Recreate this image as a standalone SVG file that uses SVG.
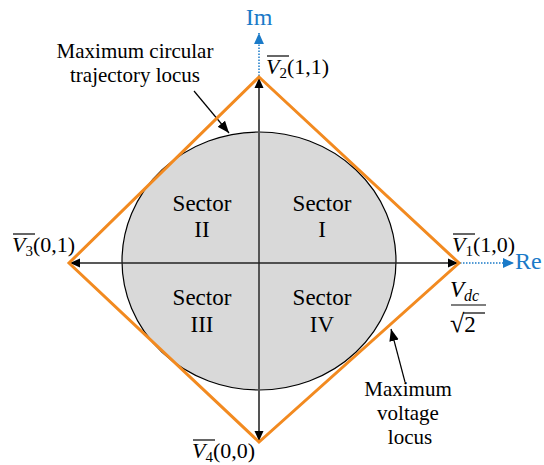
<svg xmlns="http://www.w3.org/2000/svg" width="544" height="465" viewBox="0 0 544 465">
<style>
text{font-family:"Liberation Serif","Times New Roman",serif;fill:#000}
.lbl{font-size:21px}
.sec{font-size:23px;text-anchor:middle}
.v{font-size:22px}
.blue{fill:#1a7ac8;font-size:24px}
.ov{stroke:#000;stroke-width:1.2}
</style>
<defs>
<marker id="ah" viewBox="0 0 10 10" refX="10" refY="5" markerWidth="10" markerHeight="10" markerUnits="userSpaceOnUse" orient="auto-start-reverse"><path d="M0,0.5 L10,5 L0,9.5 Z" fill="#000"/></marker>
<marker id="ahb" viewBox="0 0 10 10" refX="10" refY="5" markerWidth="11" markerHeight="11" markerUnits="userSpaceOnUse" orient="auto"><path d="M0,0.5 L10,5 L0,9.5 Z" fill="#1a7ac8"/></marker>
<marker id="ahs" viewBox="0 0 10 10" refX="10" refY="5" markerWidth="12" markerHeight="12" markerUnits="userSpaceOnUse" orient="auto"><path d="M0,1 L10,5 L0,9 Z" fill="#000"/></marker>
</defs>
<g id="circle-locus"><ellipse cx="259" cy="261" rx="137" ry="129" fill="#d9d9d9" stroke="#000" stroke-width="1.2"/></g>
<g id="connectors">
<line x1="259" y1="441" x2="259" y2="78" stroke="#555" stroke-width="2" marker-start="url(#ah)" marker-end="url(#ah)"/>
<line x1="70" y1="263" x2="458" y2="263" stroke="#222" stroke-width="1.5" marker-start="url(#ah)" marker-end="url(#ah)"/>
<line x1="259" y1="76" x2="259" y2="33" stroke="#1a7ac8" stroke-width="1.5" stroke-dasharray="1.5,1.5" marker-end="url(#ahb)"/>
<line x1="460" y1="263" x2="514" y2="263" stroke="#1a7ac8" stroke-width="1.5" stroke-dasharray="1.5,1.5" marker-end="url(#ahb)"/>
<line x1="194" y1="91" x2="229" y2="133" stroke="#000" stroke-width="1.2" marker-end="url(#ahs)"/>
<line x1="405" y1="382" x2="391" y2="329" stroke="#000" stroke-width="1.2" marker-end="url(#ahs)"/>
</g>
<g id="voltage-locus"><path d="M259,77 L459,263 L259,442 L69,263 Z" fill="none" stroke="#f28a20" stroke-width="3" stroke-linejoin="miter"/></g>
<g id="sectors">
<text class="sec" x="202" y="211">Sector</text><text class="sec" x="202" y="237">II</text>
<text class="sec" x="322" y="211">Sector</text><text class="sec" x="322" y="237">I</text>
<text class="sec" x="202" y="305">Sector</text><text class="sec" x="202" y="332">III</text>
<text class="sec" x="322" y="305">Sector</text><text class="sec" x="322" y="332">IV</text>
</g>
<g id="axis-labels">
<text class="blue" x="259" y="25" text-anchor="middle">Im</text>
<text class="blue" x="515" y="269">Re</text>
</g>
<g id="v2"><text class="v" x="266" y="74"><tspan font-style="italic">V</tspan><tspan font-size="15" dy="4">2</tspan><tspan dy="-4">(1,1)</tspan></text><line class="ov" x1="267" y1="56" x2="289" y2="56"/></g>
<g id="v1"><text class="v" x="452" y="252"><tspan font-style="italic">V</tspan><tspan font-size="15" dy="4">1</tspan><tspan dy="-4">(1,0)</tspan></text><line class="ov" x1="453" y1="234" x2="475" y2="234"/></g>
<g id="v3"><text class="v" x="12" y="252"><tspan font-style="italic">V</tspan><tspan font-size="15" dy="4">3</tspan><tspan dy="-4">(0,1)</tspan></text><line class="ov" x1="13" y1="234" x2="35" y2="234"/></g>
<g id="v4"><text class="v" x="192" y="458"><tspan font-style="italic">V</tspan><tspan font-size="15" dy="4">4</tspan><tspan dy="-4">(0,0)</tspan></text><line class="ov" x1="193" y1="440" x2="215" y2="440"/></g>
<g id="vdc"><text x="450" y="297" font-size="23"><tspan font-style="italic">V</tspan><tspan font-size="16" font-style="italic" dy="4">dc</tspan></text><line class="ov" x1="451" y1="305" x2="486" y2="305"/><text x="450" y="332" font-size="23"><tspan font-size="26">√</tspan><tspan>2</tspan></text><line class="ov" x1="463" y1="313" x2="485" y2="313"/></g>
<g id="label-circ"><text class="lbl" x="135" y="58" text-anchor="middle">Maximum circular</text><text class="lbl" x="135" y="82" text-anchor="middle">trajectory locus</text></g>
<g id="label-volt"><text class="lbl" x="408" y="396" text-anchor="middle">Maximum</text><text class="lbl" x="408" y="420" text-anchor="middle">voltage</text><text class="lbl" x="410" y="444" text-anchor="middle">locus</text></g>
</svg>
